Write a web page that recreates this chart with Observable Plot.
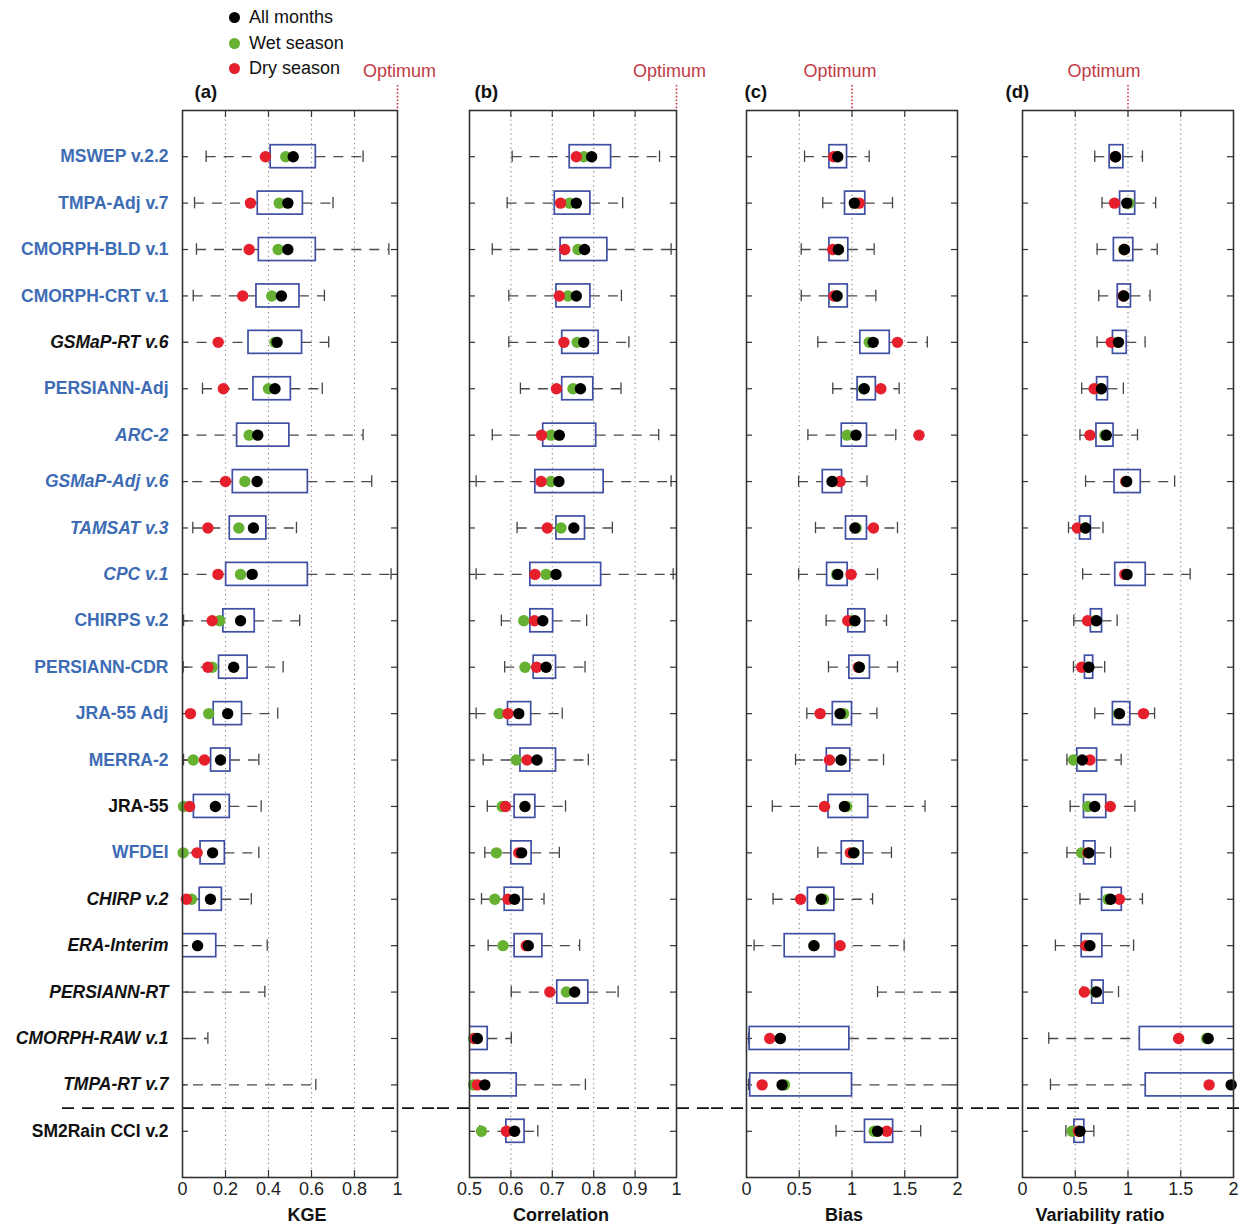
<!DOCTYPE html>
<html><head><meta charset="utf-8">
<script src="https://cdn.jsdelivr.net/npm/d3@7"></script>
<script src="https://cdn.jsdelivr.net/npm/@observablehq/plot@0.6"></script>
<style>
body{margin:0;background:#fff;}
#wrap{position:relative;width:1248px;height:1224px;font-family:"Liberation Sans",Arial,sans-serif;overflow:hidden;}
#wrap svg{position:absolute;top:0;}
.legend{position:absolute;left:229px;top:5px;font-size:18px;color:#111;font-family:"Liberation Sans",Arial,sans-serif;}
.legend div{height:25.5px;display:flex;align-items:center;}
.legend span.dot{display:inline-block;width:11px;height:11px;border-radius:50%;margin-right:9px;}
</style></head><body><div id="wrap"></div>
<script>
// ---- categories ----
const names = ["MSWEP v.2.2","TMPA-Adj v.7","CMORPH-BLD v.1","CMORPH-CRT v.1","GSMaP-RT v.6","PERSIANN-Adj","ARC-2","GSMaP-Adj v.6","TAMSAT v.3","CPC v.1","CHIRPS v.2","PERSIANN-CDR","JRA-55 Adj","MERRA-2","JRA-55","WFDEI","CHIRP v.2","ERA-Interim","PERSIANN-RT","CMORPH-RAW v.1","TMPA-RT v.7","SM2Rain CCI v.2"];
// label groups (blue / italic as in the original figure)
const blueNames = ["MSWEP v.2.2","TMPA-Adj v.7","CMORPH-BLD v.1","CMORPH-CRT v.1","PERSIANN-Adj","ARC-2","GSMaP-Adj v.6","TAMSAT v.3","CPC v.1","CHIRPS v.2","PERSIANN-CDR","JRA-55 Adj","MERRA-2","WFDEI"];
const italicNames = ["GSMaP-RT v.6","ARC-2","GSMaP-Adj v.6","TAMSAT v.3","CPC v.1","CHIRP v.2","ERA-Interim","PERSIANN-RT","CMORPH-RAW v.1","TMPA-RT v.7"];
const separatorAfter = "TMPA-RT v.7";

// ---- (a) KGE ----
const kgeLo  = [0.11,0.056,0.065,0.05,-0.1,0.093,-0.1,-0.12,0.048,-0.1,0.005,0.003,-0.15,0.005,-0.2,-0.3,-0.3,-0.6,-1.0,-1.5,-1.2,null];
const kgeQ1  = [0.41,0.35,0.355,0.344,0.307,0.33,0.254,0.234,0.22,0.203,0.19,0.17,0.145,0.133,0.053,0.084,0.08,-0.05,-0.6,-1.0,-0.8,null];
const kgeQ3  = [0.62,0.56,0.62,0.544,0.556,0.504,0.497,0.583,0.39,0.583,0.336,0.303,0.277,0.223,0.22,0.197,0.183,0.157,-0.15,-0.4,-0.2,null];
const kgeHi  = [0.84,0.70,0.96,0.66,0.68,0.65,0.84,0.88,0.53,0.97,0.545,0.468,0.443,0.355,0.366,0.355,0.32,0.394,0.383,0.118,0.62,null];
const kgeAll = [0.515,0.49,0.49,0.46,0.44,0.43,0.35,0.347,0.33,0.324,0.27,0.238,0.21,0.177,0.153,0.14,0.13,0.07,null,null,null,null];
const kgeWet = [0.48,0.45,0.445,0.415,0.43,0.40,0.31,0.29,0.262,0.27,0.173,0.138,0.122,0.05,0.005,0.003,0.042,null,null,null,null,null];
const kgeDry = [0.386,0.316,0.31,0.28,0.166,0.19,null,0.20,0.118,0.165,0.138,0.118,0.037,0.102,0.033,0.068,0.018,null,null,null,null,null];

// ---- (b) Correlation ----
const corLo  = [0.603,0.591,0.555,0.595,0.595,0.623,0.555,0.516,0.615,0.516,0.577,0.585,0.516,0.533,0.543,0.537,0.529,0.545,0.601,0.40,0.40,0.525];
const corQ1  = [0.742,0.706,0.72,0.71,0.724,0.724,0.678,0.659,0.71,0.647,0.647,0.655,0.593,0.623,0.609,0.601,0.585,0.609,0.712,0.47,0.47,0.589];
const corQ3  = [0.842,0.792,0.833,0.792,0.812,0.799,0.806,0.824,0.779,0.818,0.702,0.709,0.649,0.709,0.659,0.65,0.63,0.676,0.787,0.544,0.614,0.633];
const corHi  = [0.959,0.87,0.987,0.867,0.885,0.866,0.957,0.987,0.845,0.992,0.783,0.779,0.724,0.787,0.732,0.717,0.68,0.766,0.859,0.601,0.78,0.665];
const corAll = [0.795,0.758,0.778,0.758,0.776,0.768,0.717,0.716,0.752,0.709,0.677,0.685,0.619,0.663,0.634,0.626,0.609,0.642,0.754,0.519,0.537,0.609];
const corWet = [0.776,0.742,0.762,0.738,0.76,0.75,0.697,0.697,0.721,0.685,0.631,0.634,0.572,0.613,0.579,0.565,0.561,0.581,0.734,0.51,0.51,0.529];
const corDry = [0.758,0.72,0.73,0.717,0.728,0.71,0.674,0.673,0.688,0.658,0.657,0.662,0.593,0.639,0.587,0.619,0.593,0.637,0.694,0.512,0.519,0.589];

// ---- (c) Bias ----
const biasLo  = [0.55,0.723,0.519,0.519,0.676,0.818,0.582,0.494,0.654,0.494,0.755,0.777,0.572,0.465,0.245,0.676,0.252,0.072,1.242,0.02,0.02,0.849];
const biasQ1  = [0.786,0.934,0.786,0.786,1.079,1.053,0.903,0.723,0.943,0.764,0.965,0.975,0.818,0.761,0.777,0.903,0.582,0.362,2.3,0.03,0.035,1.123];
const biasQ3  = [0.953,1.126,0.965,0.96,1.358,1.226,1.142,0.906,1.142,0.959,1.126,1.17,1.0,0.984,1.154,1.11,0.833,0.84,2.8,0.975,1.0,1.39];
const biasHi  = [1.163,1.384,1.21,1.226,1.714,1.447,1.415,1.142,1.431,1.242,1.327,1.431,1.236,1.299,1.692,1.374,1.195,1.494,3.5,3.0,3.0,1.651];
const biasAll = [0.865,1.022,0.871,0.858,1.201,1.116,1.038,0.811,1.028,0.865,1.028,1.069,0.887,0.896,0.928,1.016,0.708,0.639,null,0.321,0.337,1.242];
const biasWet = [0.86,1.04,0.87,0.86,1.163,1.11,0.953,0.82,1.04,0.855,1.0,1.07,0.92,0.9,0.95,1.02,0.73,0.64,null,0.32,0.36,1.21];
const biasDry = [0.827,1.069,0.817,0.83,1.431,1.274,1.635,0.887,1.204,0.991,0.96,1.06,0.698,0.786,0.739,0.984,0.513,0.887,null,0.22,0.148,1.33];

// ---- (d) Variability ratio ----
const varLo  = [0.685,0.754,0.707,0.723,0.707,0.561,0.545,0.598,0.436,0.57,0.486,0.483,0.685,0.421,0.452,0.421,0.545,0.312,0.57,0.249,0.265,0.411];
const varQ1  = [0.826,0.925,0.866,0.903,0.857,0.707,0.701,0.872,0.545,0.879,0.648,0.592,0.857,0.52,0.583,0.583,0.754,0.561,0.66,1.112,1.168,0.492];
const varQ3  = [0.956,1.068,1.05,1.028,0.988,0.81,0.863,1.121,0.648,1.168,0.754,0.67,1.022,0.707,0.794,0.692,0.941,0.757,0.769,2.5,2.5,0.586];
const varHi  = [1.137,1.262,1.277,1.209,1.162,0.956,1.09,1.442,0.763,1.589,0.897,0.779,1.252,0.935,1.065,0.835,1.137,1.053,0.91,3.0,3.0,0.676];
const varAll = [0.882,0.988,0.966,0.96,0.91,0.748,0.794,0.988,0.598,0.991,0.701,0.629,0.919,0.567,0.685,0.629,0.835,0.639,0.701,1.76,1.978,0.545];
const varWet = [0.88,1.01,0.96,0.96,0.9,0.74,0.78,0.98,0.59,0.98,0.69,0.62,0.91,0.483,0.62,0.56,0.81,0.63,0.69,1.745,null,0.47];
const varDry = [0.88,0.872,0.966,0.955,0.841,0.679,0.639,0.98,0.52,0.97,0.617,0.561,1.147,0.639,0.832,0.62,0.919,0.6,0.586,1.48,1.769,0.53];

// ---- axis ticks ----
const kgeTicks = [0,0.2,0.4,0.6,0.8,1], kgeGrid = [0.2,0.4,0.6,0.8];
const corTicks = [0.5,0.6,0.7,0.8,0.9,1], corGrid = [0.6,0.7,0.8,0.9];
const biasTicks = [0,0.5,1,1.5,2], biasGrid = [0.5,1,1.5];
const varTicks = [0,0.5,1,1.5,2], varGrid = [0.5,1,1.5];

const legendItems = [["All months","#000000"],["Wet season","#66b032"],["Dry season","#e51f2b"]];

const BLUE = "#3d6cb5", BOX = "#3f4fa3", OPT = "#c23a46";
const H = 1224, MT = 110, MB = 47;

function panel(o) {
  const rows = names.map((name,i)=>({name, lo:o.lo[i], q1:o.q1[i], q3:o.q3[i], hi:o.hi[i], all:o.all[i], wet:o.wet[i], dry:o.dry[i]}));
  const fw = o.width - o.mLeft - o.mRight, fh = H - MT - MB;
  const has = (...k) => rows.filter(d => k.every(c => d[c] != null));
  const marks = [
    Plot.ruleX(o.grid, {x: d=>d, stroke:"#8a8a8a", strokeDasharray:"1.3,3.4", strokeWidth:1.1}),
    Plot.tickX(o.grid, {x: d=>d, insetBottom: fh-7, stroke:"#333", strokeWidth:1.2}),
    Plot.tickX(o.grid, {x: d=>d, insetTop: fh-7, stroke:"#333", strokeWidth:1.2}),
    Plot.tickY(names, {y: d=>d, insetRight: fw-6, stroke:"#333", strokeWidth:1.2}),
    Plot.tickY(names, {y: d=>d, insetLeft: fw-6, stroke:"#333", strokeWidth:1.2}),
    Plot.ruleY([separatorAfter], {y: d=>d, dy: 23.2, insetLeft: o.sepLeft, insetRight: o.sepRight, stroke:"#111", strokeWidth:1.7, strokeDasharray:"12,8"}),
    Plot.ruleY(has("lo","q1"), {y:"name", x1:"lo", x2:"q1", stroke:"#4a4a4a", strokeWidth:1.3, strokeDasharray:"10,8", clip:true}),
    Plot.ruleY(has("q3","hi"), {y:"name", x1:"q3", x2:"hi", stroke:"#4a4a4a", strokeWidth:1.3, strokeDasharray:"10,8", clip:true}),
    Plot.tickX(has("lo"), {x:"lo", y:"name", insetTop:17.5, insetBottom:17.5, stroke:"#444", strokeWidth:1.3, clip:true}),
    Plot.tickX(has("hi"), {x:"hi", y:"name", insetTop:17.5, insetBottom:17.5, stroke:"#444", strokeWidth:1.3, clip:true}),
    Plot.barX(has("q1","q3"), {x1:"q1", x2:"q3", y:"name", insetTop:11.7, insetBottom:11.7, fill:"none", stroke:BOX, strokeWidth:1.7, clip:true}),
    Plot.dot(has("wet"), {x:"wet", y:"name", r:5.7, fill:"#66b032"}),
    Plot.dot(has("dry"), {x:"dry", y:"name", r:5.7, fill:"#e51f2b"}),
    Plot.dot(has("all"), {x:"all", y:"name", r:5.7, fill:"#000"}),
    Plot.frame({stroke:"#333", strokeWidth:1.6}),
    Plot.ruleX([1], {x: d=>d, insetTop:-25, insetBottom: fh, stroke:OPT, strokeDasharray:"1.6,2", strokeWidth:1.6}),
    Plot.text(["Optimum"], {x: ()=>1, text: d=>d, frameAnchor:"top", lineAnchor:"middle", dy:-39, dx:o.optDx, fill:OPT, fontSize:18}),
    Plot.text([o.tag], {text: d=>d, frameAnchor:"top-left", lineAnchor:"middle", dy:-18, dx:o.tagDx, textAnchor:"start", fontWeight:"bold", fontSize:18.5, fill:"#111"}),
    Plot.text([o.title], {text: d=>d, frameAnchor:"bottom", lineAnchor:"middle", dy:38, dx:o.titleDx, fontWeight:"bold", fontSize:18, fill:"#111"})
  ];
  if (o.labels) {
    const groups = [
      [names.filter(n => blueNames.includes(n) && !italicNames.includes(n)), BLUE, "normal"],
      [names.filter(n => blueNames.includes(n) && italicNames.includes(n)), BLUE, "italic"],
      [names.filter(n => !blueNames.includes(n) && !italicNames.includes(n)), "#111", "normal"],
      [names.filter(n => !blueNames.includes(n) && italicNames.includes(n)), "#111", "italic"]
    ];
    for (const [list, color, style] of groups) {
      marks.push(Plot.text(list, {y: d=>d, text: d=>d, frameAnchor:"left", lineAnchor:"middle", dx:-14, textAnchor:"end", fill:color, fontWeight:"bold", fontStyle:style, fontSize:17.5}));
    }
  }
  const svg = Plot.plot({
    width: o.width, height: H,
    marginTop: MT, marginBottom: MB, marginLeft: o.mLeft, marginRight: o.mRight,
    style: {fontFamily:'"Liberation Sans", Arial, sans-serif', fontSize:"18px", color:"#222", background:"transparent", overflow:"visible"},
    x: {domain: o.domain, ticks: o.ticks, tickSize: 0, tickPadding: 5, tickFormat: d => String(d), label: null},
    y: {type:"band", domain: names, padding: 0, round: false, insetTop: 23, insetBottom: 23, axis: null},
    marks
  });
  svg.style.left = o.left + "px";
  return svg;
}

const wrap = document.getElementById("wrap");
wrap.appendChild(panel({lo:kgeLo,q1:kgeQ1,q3:kgeQ3,hi:kgeHi,all:kgeAll,wet:kgeWet,dry:kgeDry,
  domain:[0,1], ticks:kgeTicks, grid:kgeGrid, title:"KGE", tag:"(a)", labels:true,
  left:0, width:437, mLeft:182, mRight:40, sepLeft:-120, sepRight:-40, optDx:2, tagDx:12, titleDx:17}));
wrap.appendChild(panel({lo:corLo,q1:corQ1,q3:corQ3,hi:corHi,all:corAll,wet:corWet,dry:corDry,
  domain:[0.5,1], ticks:corTicks, grid:corGrid, title:"Correlation", tag:"(b)",
  left:437, width:274, mLeft:32, mRight:35, sepLeft:-32, sepRight:-35, optDx:-7, tagDx:5, titleDx:-12}));
wrap.appendChild(panel({lo:biasLo,q1:biasQ1,q3:biasQ3,hi:biasHi,all:biasAll,wet:biasWet,dry:biasDry,
  domain:[0,2], ticks:biasTicks, grid:biasGrid, title:"Bias", tag:"(c)",
  left:711, width:276, mLeft:35, mRight:30, sepLeft:-35, sepRight:-30, optDx:-12, tagDx:-2, titleDx:-8}));
wrap.appendChild(panel({lo:varLo,q1:varQ1,q3:varQ3,hi:varHi,all:varAll,wet:varWet,dry:varDry,
  domain:[0,2], ticks:varTicks, grid:varGrid, title:"Variability ratio", tag:"(d)",
  left:987, width:261, mLeft:35, mRight:15, sepLeft:-35, sepRight:-7, optDx:-24, tagDx:-17, titleDx:-28}));

const leg = document.createElement("div");
leg.className = "legend";
for (const [label, color] of legendItems) {
  const row = document.createElement("div");
  const dot = document.createElement("span");
  dot.className = "dot"; dot.style.background = color;
  row.appendChild(dot);
  row.appendChild(document.createTextNode(label));
  leg.appendChild(row);
}
wrap.appendChild(leg);
</script>
</body></html>
